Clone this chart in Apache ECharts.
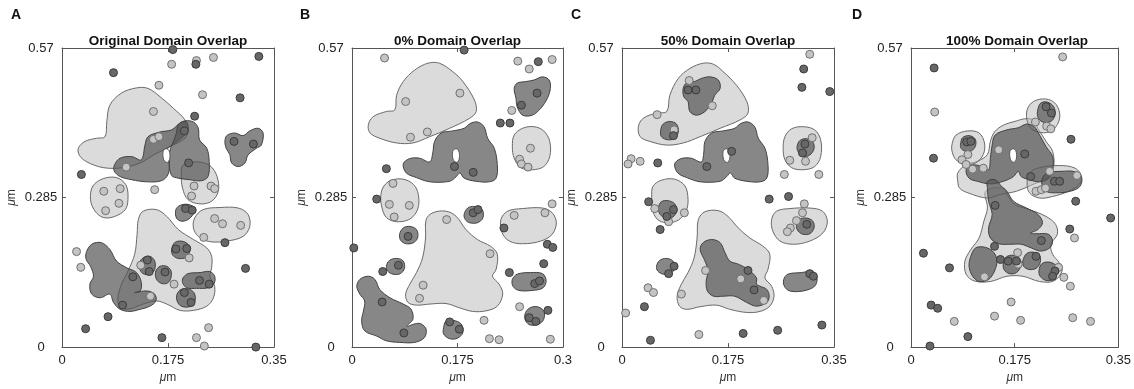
<!DOCTYPE html>
<html>
<head>
<meta charset="utf-8">
<script src="https://cdn.jsdelivr.net/npm/echarts@6/dist/echarts.min.js"></script>
<style>html,body{margin:0;padding:0;background:#fff;}#c{width:1134px;height:389px;}</style>
</head>
<body>
<div id="c"></div>
<script>
// ---------- tick labels ----------
const xTickLabels = ['0', '0.175', '0.35'];
const xTickLabelsB = ['0', '0.175', '0.3'];
const yTickLabels = ['0', '0.285', '0.57'];
const panelTitles = ['Original Domain Overlap', '0% Domain Overlap', '50% Domain Overlap', '100% Domain Overlap'];
const panelLetters = ['A', 'B', 'C', 'D'];

// ---------- shared shapes ----------
const holeS = [[0.167,0.373],[0.172,0.378],[0.177,0.374],[0.178,0.360],[0.174,0.352],[0.168,0.357]];

// ---------- Panel A ----------
const A_light = [
  [[0.027,0.379],[0.038,0.392],[0.057,0.398],[0.071,0.401],[0.074,0.430],[0.079,0.461],[0.098,0.484],[0.123,0.494],[0.142,0.493],[0.162,0.477],[0.184,0.455],[0.203,0.433],[0.208,0.414],[0.203,0.398],[0.178,0.382],[0.151,0.366],[0.129,0.351],[0.101,0.342],[0.068,0.342],[0.041,0.353],[0.029,0.365]],
  [[0.200,0.347],[0.222,0.353],[0.244,0.346],[0.256,0.325],[0.258,0.297],[0.247,0.278],[0.228,0.273],[0.208,0.281],[0.199,0.303],[0.197,0.329]],
  [[0.051,0.307],[0.068,0.321],[0.090,0.323],[0.105,0.310],[0.109,0.288],[0.105,0.263],[0.087,0.249],[0.068,0.247],[0.054,0.260],[0.047,0.282]],
  [[0.219,0.246],[0.233,0.262],[0.261,0.266],[0.291,0.265],[0.307,0.253],[0.310,0.230],[0.299,0.211],[0.272,0.202],[0.244,0.201],[0.225,0.211],[0.217,0.227]],
  [[0.126,0.243],[0.134,0.259],[0.156,0.262],[0.173,0.249],[0.192,0.224],[0.217,0.205],[0.239,0.189],[0.247,0.173],[0.247,0.151],[0.244,0.135],[0.252,0.116],[0.250,0.094],[0.239,0.078],[0.217,0.070],[0.195,0.070],[0.173,0.082],[0.156,0.088],[0.134,0.082],[0.107,0.072],[0.093,0.082],[0.096,0.113],[0.109,0.145],[0.120,0.177],[0.124,0.215]]
];
const A_dark = [
  [[0.087,0.348],[0.096,0.360],[0.115,0.363],[0.131,0.357],[0.137,0.385],[0.142,0.401],[0.162,0.410],[0.181,0.414],[0.195,0.427],[0.205,0.430],[0.208,0.414],[0.197,0.398],[0.178,0.382],[0.172,0.374],[0.177,0.354],[0.175,0.329],[0.164,0.317],[0.140,0.315],[0.115,0.319],[0.096,0.325],[0.086,0.336]],
  [[0.192,0.424],[0.203,0.431],[0.217,0.429],[0.225,0.417],[0.227,0.395],[0.239,0.379],[0.243,0.354],[0.241,0.325],[0.230,0.317],[0.211,0.319],[0.192,0.322],[0.181,0.327],[0.177,0.348],[0.178,0.373],[0.184,0.392],[0.189,0.408]],
  [[0.269,0.392],[0.272,0.403],[0.285,0.408],[0.299,0.403],[0.310,0.412],[0.324,0.417],[0.332,0.408],[0.329,0.385],[0.321,0.379],[0.307,0.366],[0.302,0.351],[0.291,0.344],[0.280,0.351],[0.277,0.367],[0.271,0.379]],
  [[0.188,0.262],[0.195,0.270],[0.208,0.272],[0.219,0.265],[0.217,0.254],[0.208,0.243],[0.197,0.240],[0.189,0.246]],
  [[0.040,0.180],[0.049,0.196],[0.065,0.199],[0.079,0.186],[0.090,0.164],[0.107,0.151],[0.123,0.142],[0.131,0.123],[0.129,0.107],[0.120,0.104],[0.140,0.107],[0.153,0.101],[0.155,0.088],[0.145,0.078],[0.129,0.072],[0.112,0.068],[0.096,0.072],[0.085,0.085],[0.079,0.101],[0.063,0.094],[0.049,0.101],[0.046,0.120],[0.052,0.135],[0.047,0.154],[0.040,0.167]],
  [[0.181,0.186],[0.186,0.199],[0.197,0.202],[0.208,0.196],[0.211,0.183],[0.205,0.171],[0.192,0.169],[0.183,0.175]],
  [[0.128,0.161],[0.134,0.170],[0.145,0.173],[0.153,0.164],[0.153,0.148],[0.146,0.139],[0.134,0.140],[0.128,0.150]],
  [[0.155,0.145],[0.162,0.154],[0.173,0.154],[0.180,0.145],[0.179,0.129],[0.172,0.121],[0.161,0.123],[0.155,0.132]],
  [[0.200,0.132],[0.208,0.140],[0.228,0.142],[0.244,0.144],[0.252,0.135],[0.251,0.121],[0.241,0.113],[0.222,0.112],[0.206,0.113],[0.199,0.123]],
  [[0.190,0.101],[0.197,0.110],[0.211,0.110],[0.219,0.101],[0.219,0.085],[0.211,0.077],[0.197,0.078],[0.190,0.088]]
];
const A_holes = [holeS];
const A_darkPts = [[0.183,0.567],[0.221,0.539],[0.325,0.554],[0.085,0.523],[0.294,0.475],[0.219,0.440],[0.032,0.329],[0.284,0.392],[0.316,0.387],[0.202,0.412],[0.209,0.351],[0.204,0.264],[0.215,0.261],[0.269,0.199],[0.303,0.150],[0.188,0.187],[0.206,0.188],[0.141,0.166],[0.144,0.144],[0.170,0.143],[0.117,0.134],[0.227,0.127],[0.243,0.120],[0.202,0.104],[0.213,0.085],[0.100,0.080],[0.076,0.058],[0.039,0.035],[0.165,0.018],[0.320,0.000]];
const A_lightPts = [[0.181,0.539],[0.222,0.546],[0.250,0.552],[0.160,0.499],[0.232,0.481],[0.151,0.449],[0.151,0.396],[0.160,0.401],[0.106,0.343],[0.069,0.297],[0.096,0.302],[0.094,0.274],[0.072,0.260],[0.153,0.300],[0.218,0.307],[0.246,0.307],[0.252,0.302],[0.214,0.288],[0.252,0.245],[0.265,0.235],[0.295,0.232],[0.234,0.209],[0.210,0.170],[0.024,0.182],[0.031,0.152],[0.130,0.156],[0.185,0.120],[0.146,0.097],[0.242,0.037],[0.222,0.018],[0.235,0.002]];

// ---------- Panel B ----------
const B_light = [
  [[0.027,0.423],[0.035,0.439],[0.057,0.449],[0.071,0.452],[0.074,0.480],[0.085,0.506],[0.104,0.528],[0.126,0.541],[0.145,0.541],[0.167,0.525],[0.184,0.506],[0.203,0.471],[0.206,0.449],[0.195,0.436],[0.162,0.417],[0.129,0.401],[0.101,0.389],[0.074,0.389],[0.046,0.398],[0.030,0.408]],
  [[0.269,0.404],[0.283,0.417],[0.302,0.420],[0.318,0.412],[0.328,0.392],[0.328,0.363],[0.318,0.344],[0.299,0.338],[0.280,0.342],[0.269,0.360],[0.266,0.382]],
  [[0.053,0.307],[0.065,0.318],[0.085,0.320],[0.102,0.310],[0.110,0.291],[0.109,0.263],[0.096,0.244],[0.074,0.239],[0.057,0.247],[0.049,0.269],[0.048,0.291]],
  [[0.123,0.243],[0.134,0.256],[0.156,0.259],[0.173,0.249],[0.189,0.224],[0.208,0.205],[0.230,0.192],[0.241,0.177],[0.239,0.148],[0.233,0.135],[0.244,0.120],[0.250,0.101],[0.241,0.078],[0.222,0.069],[0.200,0.068],[0.178,0.075],[0.156,0.083],[0.129,0.082],[0.107,0.080],[0.093,0.085],[0.089,0.101],[0.096,0.120],[0.107,0.142],[0.117,0.170],[0.122,0.208]],
  [[0.247,0.243],[0.258,0.259],[0.283,0.264],[0.316,0.265],[0.332,0.256],[0.339,0.237],[0.332,0.215],[0.313,0.202],[0.283,0.197],[0.261,0.202],[0.249,0.218]]
];
const B_dark = [
  [[0.085,0.349],[0.095,0.359],[0.112,0.360],[0.129,0.353],[0.134,0.370],[0.137,0.392],[0.148,0.408],[0.167,0.412],[0.186,0.417],[0.196,0.426],[0.208,0.429],[0.219,0.420],[0.225,0.398],[0.236,0.379],[0.241,0.348],[0.239,0.322],[0.228,0.315],[0.206,0.316],[0.186,0.322],[0.179,0.332],[0.173,0.325],[0.162,0.316],[0.129,0.315],[0.107,0.323],[0.090,0.332]],
  [[0.269,0.493],[0.274,0.503],[0.288,0.506],[0.302,0.509],[0.316,0.515],[0.327,0.509],[0.329,0.493],[0.324,0.474],[0.313,0.455],[0.299,0.442],[0.283,0.442],[0.274,0.458],[0.272,0.474]],
  [[0.008,0.116],[0.013,0.129],[0.027,0.135],[0.038,0.129],[0.046,0.110],[0.063,0.094],[0.085,0.082],[0.098,0.072],[0.101,0.053],[0.091,0.040],[0.107,0.045],[0.115,0.044],[0.123,0.034],[0.120,0.018],[0.104,0.009],[0.079,0.009],[0.057,0.012],[0.041,0.021],[0.021,0.031],[0.016,0.050],[0.019,0.069],[0.021,0.088],[0.013,0.101]],
  [[0.186,0.253],[0.192,0.265],[0.203,0.268],[0.216,0.262],[0.217,0.246],[0.208,0.237],[0.195,0.237],[0.188,0.243]],
  [[0.079,0.215],[0.085,0.227],[0.096,0.230],[0.107,0.224],[0.109,0.209],[0.102,0.199],[0.090,0.197],[0.081,0.203]],
  [[0.057,0.154],[0.062,0.165],[0.074,0.169],[0.085,0.164],[0.087,0.150],[0.080,0.140],[0.068,0.139],[0.059,0.145]],
  [[0.152,0.037],[0.156,0.050],[0.168,0.051],[0.181,0.044],[0.184,0.028],[0.175,0.017],[0.162,0.016],[0.152,0.025]],
  [[0.266,0.129],[0.274,0.139],[0.296,0.142],[0.316,0.140],[0.322,0.127],[0.317,0.113],[0.299,0.108],[0.277,0.108],[0.267,0.116]],
  [[0.287,0.063],[0.294,0.074],[0.307,0.077],[0.318,0.069],[0.318,0.053],[0.310,0.044],[0.296,0.042],[0.288,0.050]]
];
const B_holes = [holeS];
const B_darkPts = [[0.186,0.566],[0.309,0.544],[0.307,0.484],[0.281,0.461],[0.246,0.427],[0.262,0.427],[0.057,0.340],[0.170,0.344],[0.201,0.333],[0.041,0.282],[0.003,0.189],[0.093,0.211],[0.077,0.156],[0.051,0.144],[0.050,0.086],[0.086,0.027],[0.162,0.048],[0.178,0.034],[0.201,0.256],[0.209,0.262],[0.252,0.227],[0.324,0.196],[0.333,0.190],[0.318,0.159],[0.261,0.142],[0.303,0.121],[0.311,0.126],[0.325,0.070],[0.294,0.056],[0.305,0.049]];
const B_lightPts = [[0.054,0.551],[0.275,0.545],[0.294,0.530],[0.332,0.548],[0.089,0.468],[0.179,0.484],[0.097,0.400],[0.125,0.410],[0.265,0.451],[0.296,0.379],[0.278,0.358],[0.281,0.349],[0.292,0.343],[0.068,0.312],[0.062,0.272],[0.095,0.270],[0.070,0.248],[0.157,0.243],[0.229,0.178],[0.118,0.118],[0.112,0.093],[0.269,0.251],[0.320,0.256],[0.332,0.273],[0.278,0.077],[0.219,0.051],[0.228,0.016],[0.244,0.014],[0.329,0.015]];

// ---------- Panel C ----------
const C_light = [
  [[0.027,0.420],[0.035,0.436],[0.057,0.446],[0.074,0.449],[0.079,0.480],[0.093,0.512],[0.112,0.531],[0.134,0.541],[0.151,0.539],[0.167,0.525],[0.189,0.499],[0.206,0.468],[0.208,0.446],[0.195,0.433],[0.162,0.417],[0.129,0.401],[0.101,0.389],[0.074,0.385],[0.046,0.392],[0.030,0.401]],
  [[0.269,0.401],[0.280,0.416],[0.299,0.420],[0.318,0.414],[0.328,0.395],[0.328,0.363],[0.318,0.344],[0.299,0.338],[0.280,0.342],[0.269,0.357],[0.266,0.379]],
  [[0.051,0.306],[0.065,0.318],[0.087,0.320],[0.104,0.307],[0.109,0.282],[0.106,0.260],[0.093,0.242],[0.073,0.237],[0.058,0.244],[0.050,0.263],[0.049,0.285]],
  [[0.247,0.243],[0.255,0.259],[0.277,0.264],[0.310,0.265],[0.331,0.259],[0.339,0.240],[0.332,0.218],[0.310,0.202],[0.283,0.196],[0.261,0.202],[0.249,0.221]],
  [[0.126,0.243],[0.137,0.258],[0.159,0.260],[0.175,0.249],[0.192,0.227],[0.211,0.208],[0.233,0.192],[0.244,0.177],[0.241,0.148],[0.236,0.132],[0.247,0.116],[0.251,0.097],[0.244,0.078],[0.228,0.068],[0.206,0.066],[0.178,0.072],[0.156,0.080],[0.129,0.077],[0.107,0.072],[0.095,0.078],[0.091,0.097],[0.098,0.120],[0.109,0.142],[0.119,0.170],[0.124,0.208]]
];
const C_dark = [
  [[0.101,0.493],[0.107,0.504],[0.120,0.506],[0.131,0.512],[0.145,0.515],[0.159,0.509],[0.162,0.493],[0.153,0.480],[0.148,0.465],[0.137,0.449],[0.123,0.442],[0.112,0.449],[0.109,0.468],[0.102,0.477]],
  [[0.064,0.414],[0.068,0.425],[0.079,0.430],[0.090,0.425],[0.093,0.410],[0.087,0.398],[0.076,0.395],[0.065,0.401]],
  [[0.087,0.349],[0.097,0.359],[0.114,0.360],[0.131,0.353],[0.135,0.370],[0.137,0.392],[0.148,0.408],[0.167,0.412],[0.186,0.417],[0.196,0.426],[0.208,0.429],[0.219,0.420],[0.225,0.398],[0.236,0.379],[0.241,0.348],[0.239,0.322],[0.228,0.315],[0.206,0.316],[0.186,0.322],[0.179,0.332],[0.173,0.325],[0.162,0.316],[0.129,0.315],[0.107,0.323],[0.092,0.332]],
  [[0.289,0.382],[0.294,0.394],[0.305,0.397],[0.315,0.391],[0.317,0.378],[0.310,0.366],[0.299,0.363],[0.291,0.372]],
  [[0.060,0.265],[0.065,0.277],[0.076,0.279],[0.087,0.273],[0.090,0.259],[0.084,0.248],[0.073,0.245],[0.063,0.253]],
  [[0.288,0.230],[0.293,0.243],[0.304,0.246],[0.315,0.240],[0.317,0.227],[0.310,0.216],[0.299,0.215],[0.291,0.221]],
  [[0.129,0.186],[0.134,0.199],[0.148,0.205],[0.162,0.199],[0.170,0.180],[0.178,0.164],[0.192,0.158],[0.208,0.148],[0.222,0.132],[0.222,0.120],[0.228,0.116],[0.239,0.110],[0.243,0.097],[0.239,0.085],[0.222,0.078],[0.206,0.085],[0.186,0.097],[0.167,0.097],[0.151,0.097],[0.141,0.107],[0.139,0.126],[0.142,0.145],[0.137,0.164]],
  [[0.057,0.154],[0.062,0.165],[0.073,0.169],[0.084,0.164],[0.087,0.151],[0.080,0.140],[0.068,0.139],[0.059,0.145]],
  [[0.267,0.129],[0.274,0.139],[0.296,0.142],[0.315,0.144],[0.322,0.132],[0.318,0.116],[0.299,0.107],[0.277,0.107],[0.268,0.116]]
];
const C_holes = [holeS];
const C_darkPts = [[0.300,0.530],[0.297,0.495],[0.343,0.487],[0.109,0.490],[0.122,0.490],[0.085,0.403],[0.302,0.387],[0.298,0.370],[0.059,0.351],[0.181,0.373],[0.140,0.344],[0.243,0.282],[0.275,0.287],[0.044,0.277],[0.074,0.249],[0.085,0.262],[0.063,0.224],[0.086,0.154],[0.077,0.140],[0.037,0.077],[0.047,0.013],[0.208,0.146],[0.218,0.109],[0.200,0.026],[0.257,0.032],[0.330,0.042],[0.310,0.140],[0.316,0.135],[0.305,0.234]];
const C_lightPts = [[0.310,0.558],[0.111,0.508],[0.149,0.460],[0.058,0.443],[0.086,0.414],[0.015,0.359],[0.010,0.349],[0.030,0.354],[0.314,0.399],[0.277,0.356],[0.303,0.354],[0.268,0.329],[0.325,0.329],[0.054,0.264],[0.077,0.239],[0.103,0.256],[0.301,0.273],[0.298,0.256],[0.288,0.241],[0.278,0.227],[0.273,0.220],[0.043,0.113],[0.052,0.104],[0.098,0.101],[0.006,0.065],[0.138,0.146],[0.196,0.130],[0.234,0.089],[0.127,0.024]];

// ---------- Panel D ----------
const D_light = [
  [[0.126,0.297],[0.129,0.265],[0.123,0.240],[0.115,0.208],[0.101,0.186],[0.091,0.164],[0.093,0.139],[0.107,0.126],[0.134,0.125],[0.162,0.135],[0.189,0.135],[0.217,0.125],[0.241,0.126],[0.255,0.145],[0.250,0.161],[0.239,0.177],[0.236,0.196],[0.247,0.215],[0.244,0.234],[0.228,0.249],[0.200,0.262],[0.175,0.272],[0.162,0.291],[0.156,0.303]],
  [[0.079,0.316],[0.079,0.332],[0.093,0.348],[0.112,0.354],[0.129,0.367],[0.134,0.392],[0.141,0.410],[0.156,0.423],[0.178,0.431],[0.192,0.435],[0.206,0.433],[0.214,0.417],[0.228,0.392],[0.239,0.373],[0.241,0.344],[0.233,0.325],[0.206,0.310],[0.178,0.297],[0.151,0.291],[0.129,0.284],[0.096,0.294],[0.082,0.303]],
  [[0.069,0.385],[0.076,0.404],[0.096,0.412],[0.115,0.408],[0.124,0.389],[0.122,0.367],[0.109,0.351],[0.090,0.348],[0.076,0.357],[0.070,0.370]],
  [[0.195,0.446],[0.203,0.465],[0.222,0.473],[0.241,0.467],[0.251,0.446],[0.247,0.424],[0.233,0.410],[0.214,0.410],[0.200,0.420]],
  [[0.200,0.332],[0.217,0.342],[0.250,0.346],[0.277,0.341],[0.288,0.325],[0.284,0.310],[0.266,0.297],[0.239,0.287],[0.217,0.284],[0.200,0.294],[0.196,0.313]]
];
const D_dark = [
  [[0.093,0.338],[0.104,0.347],[0.120,0.344],[0.131,0.338],[0.134,0.360],[0.137,0.385],[0.142,0.404],[0.162,0.414],[0.181,0.418],[0.195,0.425],[0.208,0.420],[0.217,0.404],[0.228,0.382],[0.239,0.363],[0.239,0.338],[0.233,0.322],[0.217,0.315],[0.200,0.319],[0.186,0.325],[0.181,0.335],[0.173,0.325],[0.156,0.316],[0.134,0.311],[0.112,0.316],[0.098,0.322]],
  [[0.214,0.452],[0.219,0.465],[0.230,0.467],[0.241,0.458],[0.243,0.442],[0.236,0.430],[0.222,0.429],[0.214,0.439]],
  [[0.084,0.389],[0.087,0.399],[0.098,0.403],[0.108,0.397],[0.109,0.384],[0.102,0.374],[0.090,0.374],[0.084,0.380]],
  [[0.222,0.322],[0.230,0.332],[0.255,0.335],[0.277,0.334],[0.288,0.322],[0.285,0.306],[0.269,0.297],[0.244,0.294],[0.228,0.297],[0.221,0.310]],
  [[0.129,0.316],[0.129,0.303],[0.131,0.278],[0.137,0.253],[0.131,0.227],[0.134,0.208],[0.148,0.197],[0.167,0.196],[0.186,0.196],[0.203,0.189],[0.219,0.183],[0.234,0.189],[0.239,0.202],[0.232,0.215],[0.211,0.216],[0.201,0.217],[0.214,0.224],[0.222,0.237],[0.214,0.253],[0.195,0.265],[0.173,0.278],[0.162,0.297],[0.153,0.306],[0.142,0.319]],
  [[0.101,0.173],[0.109,0.189],[0.126,0.190],[0.140,0.180],[0.145,0.164],[0.141,0.145],[0.131,0.129],[0.115,0.125],[0.104,0.135],[0.098,0.154]],
  [[0.156,0.161],[0.161,0.172],[0.172,0.175],[0.183,0.169],[0.185,0.154],[0.178,0.142],[0.166,0.140],[0.157,0.148]],
  [[0.189,0.165],[0.195,0.178],[0.206,0.181],[0.217,0.175],[0.218,0.161],[0.211,0.150],[0.199,0.148],[0.190,0.154]],
  [[0.216,0.146],[0.221,0.159],[0.233,0.162],[0.244,0.156],[0.247,0.142],[0.240,0.129],[0.228,0.127],[0.218,0.135]]
];
const D_holes = [holeS];
const D_darkPts = [[0.039,0.532],[0.038,0.360],[0.270,0.396],[0.228,0.458],[0.237,0.446],[0.094,0.391],[0.101,0.392],[0.192,0.368],[0.202,0.325],[0.242,0.316],[0.251,0.316],[0.278,0.278],[0.337,0.246],[0.268,0.225],[0.142,0.270],[0.220,0.203],[0.021,0.179],[0.065,0.151],[0.141,0.192],[0.151,0.167],[0.164,0.164],[0.178,0.164],[0.211,0.173],[0.243,0.145],[0.239,0.135],[0.034,0.080],[0.045,0.074],[0.096,0.020],[0.032,0.002]];
const D_lightPts = [[0.256,0.553],[0.040,0.448],[0.210,0.429],[0.229,0.421],[0.236,0.416],[0.096,0.367],[0.086,0.357],[0.093,0.348],[0.104,0.339],[0.122,0.341],[0.148,0.376],[0.234,0.335],[0.280,0.327],[0.211,0.297],[0.220,0.300],[0.227,0.303],[0.276,0.208],[0.180,0.180],[0.181,0.158],[0.124,0.134],[0.249,0.152],[0.258,0.133],[0.269,0.116],[0.169,0.086],[0.141,0.059],[0.185,0.051],[0.273,0.056],[0.303,0.049],[0.073,0.049]];

// ---------- build ----------
const FONT = '"Liberation Sans", Arial, Helvetica, sans-serif';
const panels = [
  {left: 62,  width: 212, xl: xTickLabels,  light: A_light, dark: A_dark, holes: A_holes, dp: A_darkPts, lp: A_lightPts, letterX: 11},
  {left: 352, width: 211, xl: xTickLabelsB, light: B_light, dark: B_dark, holes: B_holes, dp: B_darkPts, lp: B_lightPts, letterX: 300},
  {left: 622, width: 212, xl: xTickLabels,  light: C_light, dark: C_dark, holes: C_holes, dp: C_darkPts, lp: C_lightPts, letterX: 571},
  {left: 911, width: 212, xl: xTickLabels,  light: D_light, dark: D_dark, holes: D_holes, dp: D_darkPts, lp: D_lightPts, letterX: 852}
];
const TOP = 48, H = 300;
const axisCol = '#555555';
const nameStyle = {color: '#333', fontSize: 12, fontFamily: FONT, rich: {i: {fontStyle: 'italic', fontSize: 12, fontFamily: FONT, color: '#333'}, n: {fontSize: 12, fontFamily: FONT, color: '#333'}}};

const grid = [], xAxis = [], yAxis = [], series = [], graphic = [];
panels.forEach((p, k) => {
  grid.push({left: p.left, top: TOP, width: p.width, height: H});
  const common = {gridIndex: k, type: 'value', splitLine: {show: false},
    axisLine: {show: true, onZero: false, lineStyle: {color: axisCol, width: 1}},
    axisTick: {show: true, inside: true, length: 4, lineStyle: {color: axisCol}}};
  xAxis.push(Object.assign({}, common, {position: 'bottom', min: 0, max: 0.35, interval: 0.175,
    axisLabel: {margin: 7, fontSize: 13, color: '#222', fontFamily: FONT, formatter: (v, i) => p.xl[i]},
    name: '{i|μ}{n|m}', nameLocation: 'middle', nameGap: 21, nameTextStyle: nameStyle}));
  xAxis.push(Object.assign({}, common, {position: 'top', min: 0, max: 0.35, interval: 0.175, axisLabel: {show: false}}));
  yAxis.push(Object.assign({}, common, {position: 'left', min: 0, max: 0.57, interval: 0.285,
    axisLabel: {margin: 21, align: 'center', fontSize: 13, color: '#222', fontFamily: FONT, formatter: (v, i) => yTickLabels[i]},
    name: '{i|μ}{n|m}', nameLocation: 'middle', nameGap: 44, nameTextStyle: nameStyle}));
  yAxis.push(Object.assign({}, common, {position: 'right', min: 0, max: 0.57, interval: 0.285, axisLabel: {show: false}}));

  const blob = (blobs, fill, stroke, z) => ({
    type: 'custom', xAxisIndex: 2 * k, yAxisIndex: 2 * k, z: z, silent: true,
    data: blobs.map((b, i) => [b[0][0], b[0][1], i]),
    encode: {x: 0, y: 1},
    renderItem: (params, api) => {
      const b = blobs[api.value(2)];
      return {type: 'polygon', shape: {points: b.map(pt => api.coord(pt)), smooth: 0.35},
        style: {fill: fill, stroke: stroke, lineWidth: 1}};
    }
  });
  series.push(blob(p.light, 'rgba(190,190,190,0.55)', '#6a6a6a', 2));
  series.push(blob(p.dark, 'rgba(84,84,84,0.70)', '#424242', 3));
  series.push(blob(p.holes, '#ffffff', '#555555', 4));
  series.push({type: 'scatter', xAxisIndex: 2 * k, yAxisIndex: 2 * k, z: 5, silent: true, clip: false,
    symbol: 'circle', symbolSize: 8, data: p.lp,
    itemStyle: {color: '#c4c4c4', borderColor: '#707070', borderWidth: 1, opacity: 1}});
  series.push({type: 'scatter', xAxisIndex: 2 * k, yAxisIndex: 2 * k, z: 6, silent: true, clip: false,
    symbol: 'circle', symbolSize: 8, data: p.dp,
    itemStyle: {color: '#676767', borderColor: '#3c3c3c', borderWidth: 1, opacity: 1}});

  graphic.push({type: 'text', x: p.left + p.width / 2, y: 41, z: 10,
    style: {text: panelTitles[k], font: 'bold 13.5px ' + FONT, fill: '#111', textAlign: 'center', textVerticalAlign: 'middle'}});
  graphic.push({type: 'text', x: p.letterX, y: 15, z: 10,
    style: {text: panelLetters[k], font: 'bold 14px ' + FONT, fill: '#111', textAlign: 'left', textVerticalAlign: 'middle'}});
});

const chart = echarts.init(document.getElementById('c'), null, {renderer: 'canvas'});
chart.setOption({animation: false, backgroundColor: '#fff', grid, xAxis, yAxis, series, graphic});
</script>
</body>
</html>
